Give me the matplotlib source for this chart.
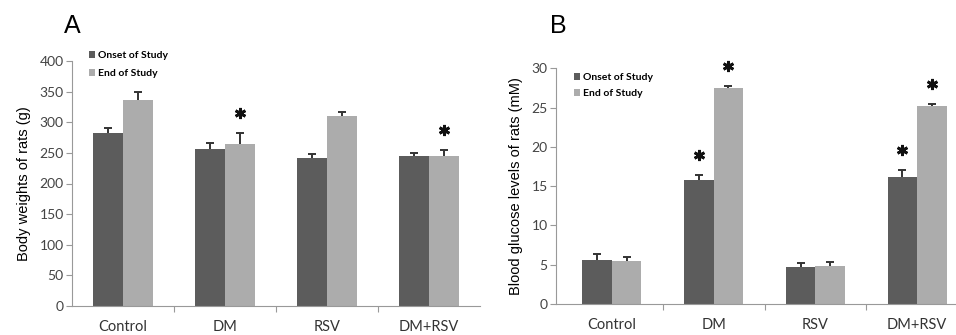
import matplotlib
matplotlib.use("Agg")
import matplotlib.pyplot as plt
import numpy as np
from matplotlib.patches import Patch
from matplotlib.transforms import ScaledTranslation

categories = ["Control", "DM", "RSV", "DM+RSV"]
series = ["Onset of Study", "End of Study"]

# Panel A: body weights (g)
bw_onset = [283, 256, 242, 245]
bw_onset_err = [8, 9.5, 6.5, 5]
bw_end = [337, 264.5, 310, 245]
bw_end_err = [12, 17.5, 7.5, 9]
bw_stars = [(1, 1), (3, 1)]  # (category index, series index)

# Panel B: blood glucose (mM)
bg_onset = [5.6, 15.8, 4.75, 16.2]
bg_onset_err = [0.75, 0.6, 0.45, 0.9]
bg_end = [5.5, 27.5, 4.9, 25.2]
bg_end_err = [0.5, 0.3, 0.4, 0.2]
bg_stars = [(1, 0), (1, 1), (3, 0), (3, 1)]

DARK = "#5c5c5c"
LIGHT = "#acacac"
W = 0.29

fig = plt.figure(figsize=(9.56, 3.35), dpi=100)

def panel(rect, onset, onset_err, end, end_err, stars, ylim, yticks, ylabel,
          letter, letter_xy, legend_xy, legend_spacing, xlim):
    ax = fig.add_axes(rect)
    x = np.arange(len(categories))
    vals = [onset, end]
    errs = [onset_err, end_err]
    cols = [DARK, LIGHT]
    offs = [-W / 2, W / 2]
    for v, e, c, o in zip(vals, errs, cols, offs):
        ax.bar(x + o, v, W, color=c, zorder=2)
        _, caps, _ = ax.errorbar(x + o, v, yerr=[np.zeros(len(e)), e],
                                 fmt="none", ecolor="#333333", elinewidth=1.4,
                                 capsize=3, capthick=1.4, zorder=3)
        caps[0].set_visible(False)
    tr = ax.transData + ScaledTranslation(0, 0.2, fig.dpi_scale_trans)
    for ci, si in stars:
        top = vals[si][ci] + errs[si][ci]
        ax.plot([x[ci] + offs[si]], [top], marker=(6, 2, 0), markersize=8,
                markeredgewidth=2, color="#111111", transform=tr,
                clip_on=False, zorder=4)
    ax.set_ylim(*ylim)
    ax.set_xlim(*xlim)
    ax.set_yticks(yticks)
    ax.set_yticklabels([str(t) for t in yticks], fontfamily="Lato",
                       fontsize=10, color="#444444")
    ax.set_xticks(x)
    ax.set_xticklabels(categories, fontfamily="Lato", fontsize=10.5,
                       color="#333333")
    ax.set_xticks(x[:-1] + 0.5, minor=True)
    ax.tick_params(axis="x", which="major", length=0, pad=10)
    ax.tick_params(axis="x", which="minor", length=4, color="#999999",
                   width=0.8)
    ax.tick_params(axis="y", length=4, color="#999999", width=0.8, pad=2)
    for s in ["top", "right"]:
        ax.spines[s].set_visible(False)
    for s in ["left", "bottom"]:
        ax.spines[s].set_color("#999999")
        ax.spines[s].set_linewidth(0.8)
    ax.set_ylabel(ylabel, fontfamily="Liberation Sans", fontsize=10.5,
                  labelpad=6)
    fig.text(letter_xy[0], letter_xy[1], letter, fontfamily="Liberation Sans",
             fontsize=18, ha="center", va="center")
    handles = [Patch(facecolor=c, edgecolor="none") for c in cols]
    ax.legend(handles, series, loc="upper left", bbox_to_anchor=legend_xy,
              bbox_transform=fig.transFigure, frameon=False,
              prop={"family": "Lato", "weight": "bold", "size": 7.5},
              handlelength=0.6, handleheight=0.6, handletextpad=0.3,
              labelspacing=legend_spacing, borderpad=0, borderaxespad=0)
    return ax

panel([72 / 956, 1 - 306 / 335, 408 / 956, 245 / 335],
      bw_onset, bw_onset_err, bw_end, bw_end_err, bw_stars,
      (0, 400), list(range(0, 401, 50)), "Body weights of rats (g)",
      "A", (72 / 956, 1 - 26 / 335), (89 / 956, 1 - 51 / 335), 0.9,
      (-0.5, 3.5))

panel([556 / 956, 1 - 304 / 335, 412 / 956, 235.7 / 335],
      bg_onset, bg_onset_err, bg_end, bg_end_err, bg_stars,
      (0, 30), list(range(0, 31, 5)), "Blood glucose levels of rats (mM)",
      "B", (558 / 956, 1 - 26 / 335), (574 / 956, 1 - 73 / 335), 0.7,
      (-0.55, 3.5))

fig.savefig("out.png", dpi=100)
